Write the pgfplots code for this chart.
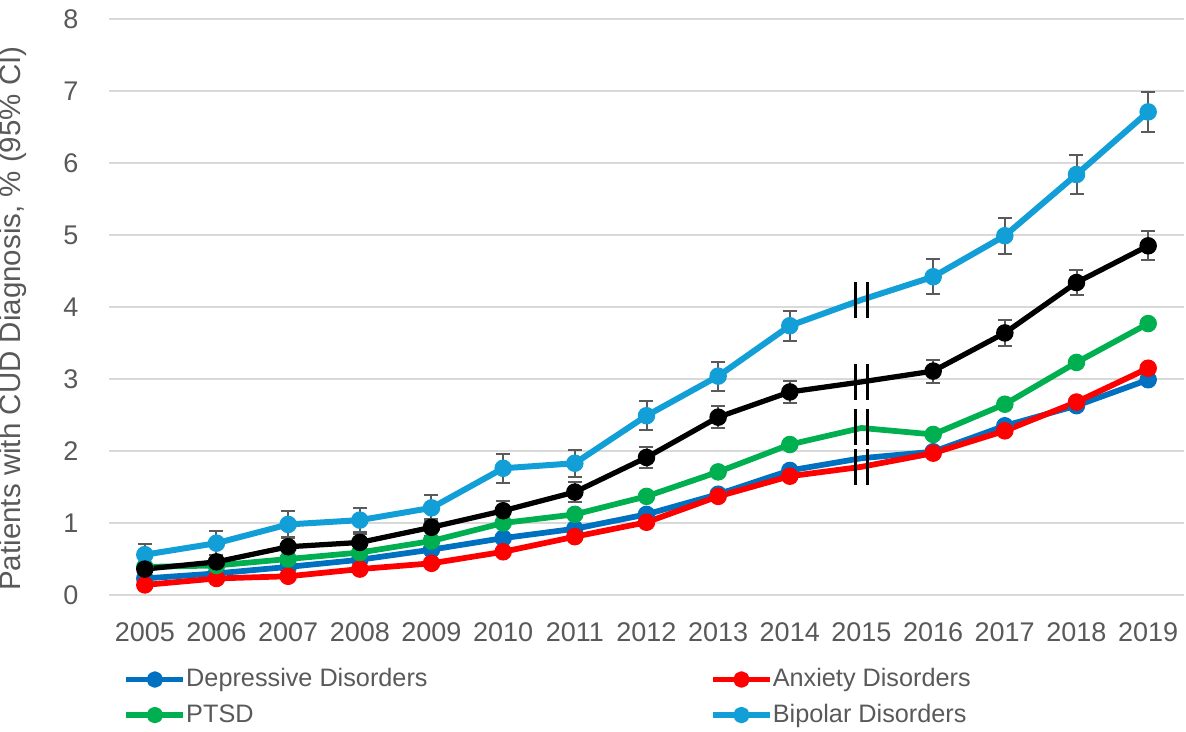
\documentclass[border=0pt]{standalone}
\usepackage{pgfplots}
\pgfplotsset{compat=1.18}
\usepackage{pgfplotstable}
\usepackage{fontspec}
\setmainfont{Liberation Sans}

\definecolor{depblue}{HTML}{0070C0}
\definecolor{anxred}{HTML}{FF0000}
\definecolor{ptsdgreen}{HTML}{00B050}
\definecolor{bipblue}{HTML}{129FD7}
\definecolor{txtgray}{HTML}{595959}
\definecolor{gridgray}{HTML}{D9D9D9}
\definecolor{errgray}{HTML}{5A5A5A}

% axis-break symbol: two short vertical strokes
\pgfdeclareplotmark{brk}{%
  \pgfpathmoveto{\pgfqpoint{-2.4pt}{-7.2pt}}\pgfpathlineto{\pgfqpoint{-2.4pt}{7.2pt}}%
  \pgfpathmoveto{\pgfqpoint{2.4pt}{-7.2pt}}\pgfpathlineto{\pgfqpoint{2.4pt}{7.2pt}}%
  \pgfusepathqstroke}

% year, value, half-width of 95% CI
\pgfplotstableread{
year val  err
2005 0.56 0.15
2006 0.72 0.17
2007 0.98 0.18
2008 1.04 0.17
2009 1.21 0.18
2010 1.76 0.20
2011 1.83 0.19
2012 2.49 0.20
2013 3.04 0.20
2014 3.74 0.21
2015 4.10 0.00
2016 4.42 0.24
2017 4.99 0.25
2018 5.84 0.27
2019 6.71 0.28
}\bipolar

\pgfplotstableread{
year val  err
2005 0.36 0.06
2006 0.46 0.10
2007 0.67 0.12
2008 0.73 0.12
2009 0.94 0.12
2010 1.17 0.14
2011 1.43 0.14
2012 1.91 0.15
2013 2.47 0.15
2014 2.82 0.15
2015 2.96 0.00
2016 3.11 0.16
2017 3.64 0.18
2018 4.34 0.18
2019 4.85 0.20
}\overall

\pgfplotstableread{
year val
2005 0.23
2006 0.30
2007 0.39
2008 0.49
2009 0.63
2010 0.79
2011 0.92
2012 1.12
2013 1.40
2014 1.73
2015 1.90
2016 1.99
2017 2.35
2018 2.63
2019 2.99
}\depressive

\pgfplotstableread{
year val
2005 0.14
2006 0.23
2007 0.26
2008 0.36
2009 0.44
2010 0.60
2011 0.81
2012 1.01
2013 1.37
2014 1.65
2015 1.78
2016 1.97
2017 2.28
2018 2.68
2019 3.15
}\anxiety

\pgfplotstableread{
year val
2005 0.39
2006 0.41
2007 0.50
2008 0.59
2009 0.75
2010 1.00
2011 1.12
2012 1.37
2013 1.71
2014 2.09
2015 2.32
2016 2.23
2017 2.65
2018 3.23
2019 3.77
}\ptsd

\begin{document}
\begin{tikzpicture}
\path[use as bounding box] (-43.6pt,-54.4pt) rectangle (430.8pt,238pt);
\begin{axis}[
    at={(0,0)}, anchor=south west,
    scale only axis, width=430pt, height=230.4pt,
    xmin=2004.5, xmax=2019.5, ymin=0, ymax=8,
    xtick={2005,...,2019}, ytick={0,...,8},
    /pgf/number format/1000 sep={},
    /pgf/number format/assume math mode=true,
    axis line style={draw=none}, major tick length=0pt,
    ymajorgrids, grid style={gridgray, line width=0.8pt},
    tick label style={font=\fontsize{10.8}{12}\selectfont, text=txtgray},
    xticklabel style={anchor=center, yshift=-14.8pt},
    yticklabel style={anchor=east, inner sep=0pt, xshift=-12pt},
    ylabel={Patients with CUD Diagnosis, \% (95\% CI)},
    every axis y label/.style={at={(axis description cs:-0.0893,0.48)}, rotate=90,
        anchor=center, font=\fontsize{11.8}{13}\selectfont, text=txtgray},
    legend columns=2,
    legend style={draw=none, fill=none, at={(axis description cs:0,0)},
        anchor=north west, xshift=5.6pt, yshift=-29.2pt, inner sep=0pt,
        row sep=5.4pt, column sep=0pt,
        nodes={inner sep=0pt, anchor=west},
        font=\fontsize{10.1}{12}\selectfont, text=txtgray,
        /tikz/every even column/.append style={column sep=113pt}},
    legend image code/.code={\draw[mark repeat=2,mark phase=2,#1]
        plot coordinates {(0pt,0pt) (11.45pt,0pt) (22.9pt,0pt)};},
    every axis plot/.append style={line join=round},
    error bars/error bar style={errgray, line width=0.8pt},
    error bars/error mark options={errgray, rotate=90, mark size=2.8pt, line width=0.8pt},
]

% legend entries
\addlegendimage{depblue, line width=2.2pt, mark=*, mark size=2.2pt}
\addlegendentry{Depressive Disorders}
\addlegendimage{anxred, line width=2.2pt, mark=*, mark size=2.2pt}
\addlegendentry{Anxiety Disorders}
\addlegendimage{ptsdgreen, line width=2.2pt, mark=*, mark size=2.2pt}
\addlegendentry{PTSD}
\addlegendimage{bipblue, line width=2.2pt, mark=*, mark size=2.2pt}
\addlegendentry{Bipolar Disorders}

% depressive
\addplot[forget plot, depblue, line width=2.3pt, mark=none] table[x=year, y=val] {\depressive};
\addplot[forget plot, depblue, only marks, mark=*, mark size=3.3pt,
    skip coords between index={10}{11}] table[x=year, y=val] {\depressive};
% anxiety
\addplot[forget plot, anxred, line width=2.3pt, mark=none] table[x=year, y=val] {\anxiety};
\addplot[forget plot, anxred, only marks, mark=*, mark size=3.3pt,
    skip coords between index={10}{11}] table[x=year, y=val] {\anxiety};
% ptsd
\addplot[forget plot, ptsdgreen, line width=2.3pt, mark=none] table[x=year, y=val] {\ptsd};
\addplot[forget plot, ptsdgreen, only marks, mark=*, mark size=3.3pt,
    skip coords between index={10}{11}] table[x=year, y=val] {\ptsd};
% bipolar
\addplot[forget plot, bipblue, line width=2.4pt, mark=none] table[x=year, y=val] {\bipolar};
\addplot[forget plot, bipblue, only marks, mark=*, mark size=3.3pt,
    skip coords between index={10}{11},
    error bars/.cd, y dir=both, y explicit]
    table[x=year, y=val, y error=err] {\bipolar};
% overall (no legend entry)
\addplot[forget plot, black, line width=2.1pt, mark=none] table[x=year, y=val] {\overall};
\addplot[forget plot, black, only marks, mark=*, mark size=3.3pt,
    skip coords between index={10}{11},
    error bars/.cd, y dir=both, y explicit]
    table[x=year, y=val, y error=err] {\overall};

% break symbols at 2015
\addplot[forget plot, only marks, mark=brk, black, mark options={line width=1.3pt}]
    coordinates {(2015,4.10) (2015,2.96) (2015,2.33) (2015,1.78)};

\end{axis}
\end{tikzpicture}
\end{document}
